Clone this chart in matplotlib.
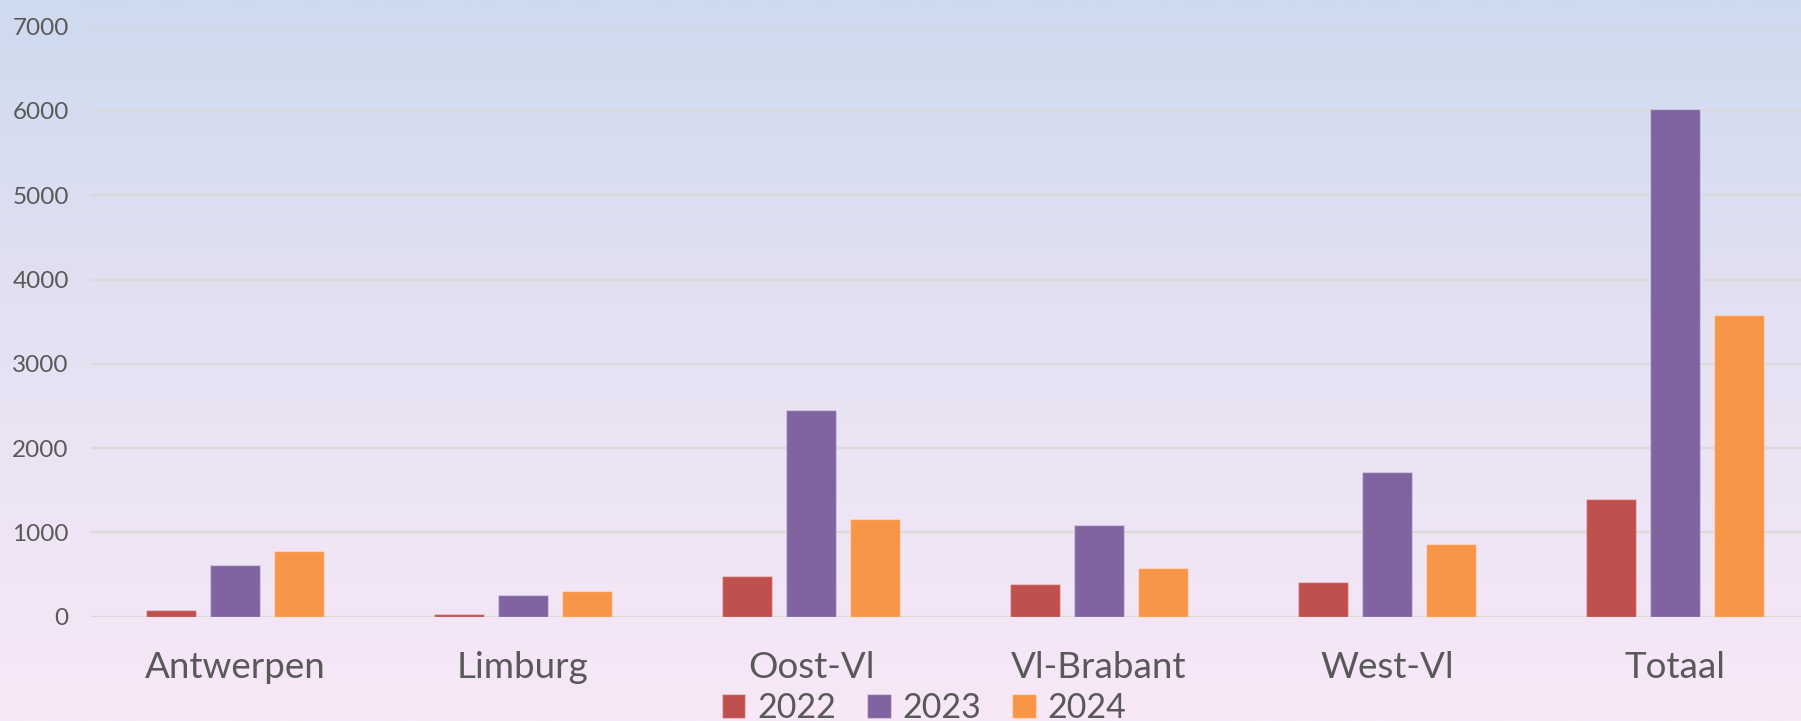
import numpy as np
import matplotlib.pyplot as plt
from matplotlib.colors import LinearSegmentedColormap

# data
regions = ["Antwerpen", "Limburg", "Oost-Vl", "Vl-Brabant", "West-Vl", "Totaal"]
years = ["2022", "2023", "2024"]
v2022 = [78, 32, 479, 384, 417, 1393]
v2023 = [613, 257, 2449, 1083, 1714, 6020]
v2024 = [776, 305, 1158, 573, 865, 3580]
colors = ["#C0504D", "#8064A2", "#F79646"]

plt.rcParams['font.family'] = ['Lato', 'DejaVu Sans']
text_col = "#595959"

fig = plt.figure(figsize=(18.01, 7.21), dpi=100)

# gradient background
bg = fig.add_axes([0, 0, 1, 1], zorder=0)
cmap = LinearSegmentedColormap.from_list("bg", ["#CEDAEE", "#E6E2F3", "#F8E8F8"])
grad = np.linspace(0, 1, 256).reshape(-1, 1)
bg.imshow(grad, aspect="auto", cmap=cmap, extent=[0, 1, 0, 1])
bg.axis("off")

W = 1801
H = 721
ax = fig.add_axes([91 / W, (H - 616.7) / H, 1728 / W, (616.7 - 26.6) / H], zorder=1)
ax.patch.set_alpha(0)

x = np.arange(len(regions))
bw = 0.174
step = 0.222
for i, (vals, c, lab) in enumerate(zip([v2022, v2023, v2024], colors, years)):
    ax.bar(x + (i - 1) * step, vals, width=bw, color=c, label=lab,
           edgecolor=(1, 1, 1, 0.35), linewidth=1, zorder=3)

ax.set_xlim(-0.5, 5.5)
ax.set_ylim(0, 7000)
ax.set_yticks(range(0, 7001, 1000))
ax.set_xticks(x)
ax.set_xticklabels(regions)
ax.grid(axis="y", color="#D9D9D9", linewidth=1.6, zorder=0)
ax.set_axisbelow(True)
for s in ax.spines.values():
    s.set_visible(False)
ax.tick_params(axis="both", length=0, colors=text_col)
ax.tick_params(axis="y", labelsize=17.5, pad=16)
ax.tick_params(axis="x", labelsize=26.5, pad=25)

handles, labels = ax.get_legend_handles_labels()
leg = fig.legend(handles, labels, loc="lower center", ncol=3, frameon=False,
                 bbox_to_anchor=(0.513, -0.047), fontsize=24.5,
                 handlelength=0.7, handleheight=0.7, handletextpad=0.35,
                 columnspacing=0.9)
for t in leg.get_texts():
    t.set_color(text_col)

fig.savefig("out.png", dpi=100)
